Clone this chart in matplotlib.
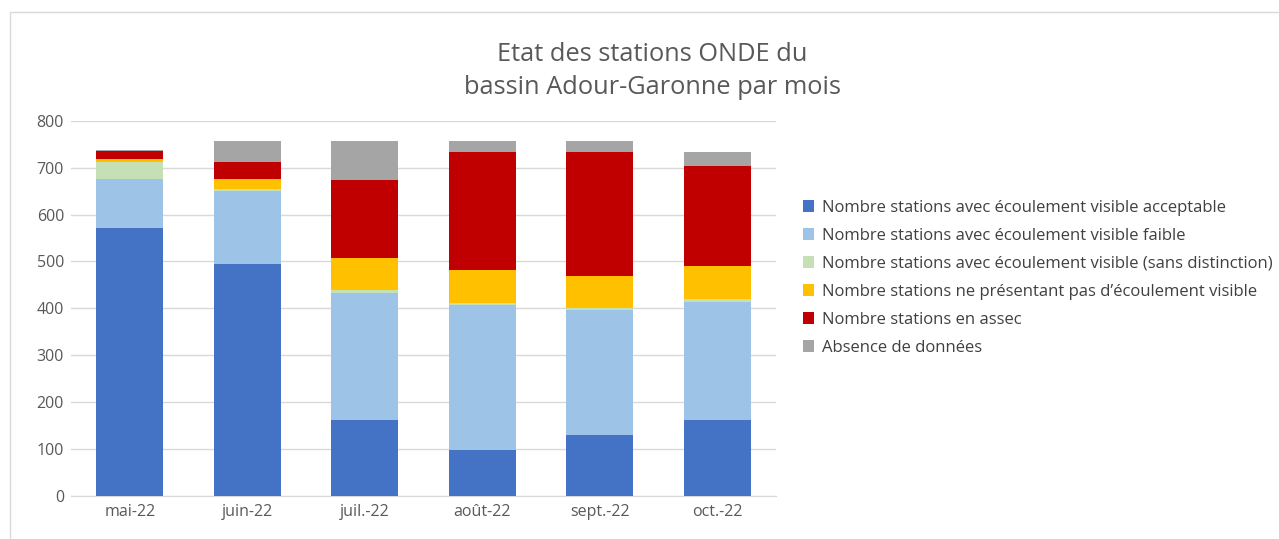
import matplotlib
matplotlib.use("Agg")
import matplotlib.pyplot as plt
from matplotlib.patches import Rectangle
import numpy as np

plt.rcParams['font.family'] = ['Open Sans', 'DejaVu Sans']

months = ["mai-22", "juin-22", "juil.-22", "août-22", "sept.-22", "oct.-22"]
series_names = [
    "Nombre stations avec écoulement visible acceptable",
    "Nombre stations avec écoulement visible faible",
    "Nombre stations avec écoulement visible (sans distinction)",
    "Nombre stations ne présentant pas d’écoulement visible",
    "Nombre stations en assec",
    "Absence de données",
]
acceptable = [571, 495, 162, 98, 130, 161]
faible = [105, 155, 271, 309, 266, 252]
sans_distinction = [37, 5, 5, 4, 5, 6]
pas_ecoulement = [6, 21, 69, 70, 67, 71]
assec = [16, 36, 167, 252, 265, 213]
absence = [2, 45, 83, 24, 24, 31]
colors = ["#4472C4", "#9DC3E6", "#C5E0B4", "#FFC000", "#C00000", "#A5A5A5"]

data = [acceptable, faible, sans_distinction, pas_ecoulement, assec, absence]

W, H = 1279, 539
fig = plt.figure(figsize=(W / 100, H / 100), dpi=100)
ax = fig.add_axes([71 / W, 1 - 495.5 / H, (776 - 71) / W, (495.5 - 121) / H])

x = np.arange(len(months))
bottom = np.zeros(len(months))
handles = []
for vals, c, name in zip(data, colors, series_names):
    b = ax.bar(x, vals, width=0.57, bottom=bottom, color=c, label=name, zorder=3)
    handles.append(b)
    bottom += np.array(vals)

ax.set_xlim(-0.5, len(months) - 0.5)
ax.set_ylim(0, 800)
ax.set_yticks(range(0, 801, 100))
ax.set_xticks(x)
ax.set_xticklabels(months)
ax.yaxis.grid(True, color="#D9D9D9", linewidth=1, zorder=0)
for s in ["top", "right", "left"]:
    ax.spines[s].set_visible(False)
ax.spines["bottom"].set_color("#D9D9D9")
ax.tick_params(axis="y", length=0, labelsize=11.5, colors="#595959", pad=5)
ax.tick_params(axis="x", length=0, labelsize=11.5, colors="#595959", pad=6)

fig.text(652 / W, 1 - 71 / H, "Etat des stations ONDE du\nbassin Adour-Garonne par mois",
         ha="center", va="center", fontsize=18.3, color="#595959", linespacing=1.45)

leg = fig.legend(handles=handles, loc="upper left", bbox_to_anchor=(796 / W, 1 - 193 / H),
                 frameon=False, fontsize=12, labelcolor="#404040", handlelength=0.7,
                 handleheight=0.7, handletextpad=0.45, labelspacing=0.72, borderaxespad=0)

fig.add_artist(Rectangle((10 / W, -0.05), 1.1, 1 - 12 / H + 0.05, transform=fig.transFigure,
                         fill=False, edgecolor="#D9D9D9", linewidth=1))

fig.savefig("out.png", dpi=100, facecolor="white")
